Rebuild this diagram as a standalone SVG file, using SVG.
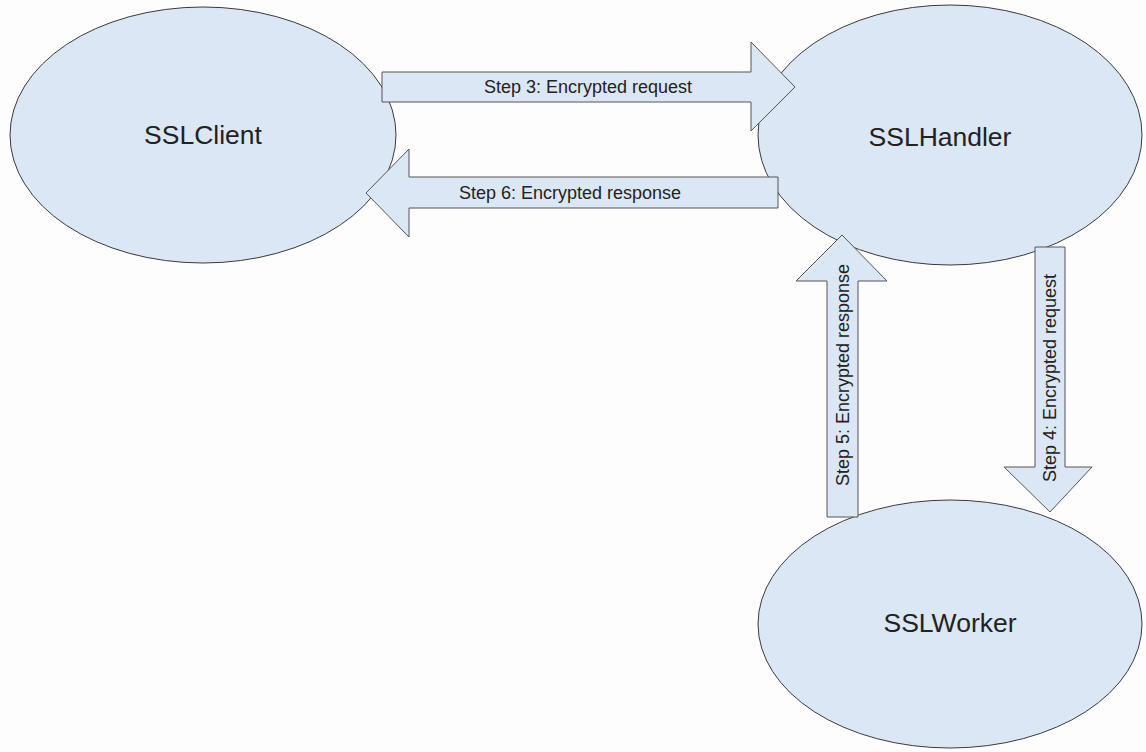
<svg xmlns="http://www.w3.org/2000/svg" width="1146" height="752" viewBox="0 0 1146 752">
<style>
.node{fill:#dce7f5;stroke:#3a3a3a;stroke-width:1}
.arrow{fill:#dce7f5;stroke:#555;stroke-width:1}
.nt{font-family:"Liberation Sans",Arial,sans-serif;font-size:26.5px;fill:#222;text-anchor:middle;dominant-baseline:central}
.lt{font-family:"Liberation Sans",Arial,sans-serif;font-size:18px;fill:#222;text-anchor:middle;dominant-baseline:central}
</style>
<rect width="1146" height="752" fill="#fdfdfd"/>
<g id="SSLClient">
<ellipse class="node" cx="203" cy="135" rx="193" ry="128"/>
<text class="nt" x="203" y="135">SSLClient</text>
</g>
<g id="SSLHandler">
<ellipse class="node" cx="950" cy="135" rx="192" ry="130"/>
<text class="nt" x="940" y="137">SSLHandler</text>
</g>
<g id="SSLWorker">
<ellipse class="node" cx="950" cy="624" rx="192" ry="124"/>
<text class="nt" x="950" y="623">SSLWorker</text>
</g>
<g id="connectors">
<g id="step3">
<polygon class="arrow" points="382,72 751,72 751,42 795,87 751,131 751,102 382,102"/>
<text class="lt" x="588" y="87">Step 3: Encrypted request</text>
</g>
<g id="step6">
<polygon class="arrow" points="778,177 409,177 409,149 366,193 409,237 409,208 778,208"/>
<text class="lt" x="570" y="193">Step 6: Encrypted response</text>
</g>
<g id="step5">
<polygon class="arrow" points="827,517 827,281 796,281 842,235 887,281 858,281 858,517"/>
<text class="lt" transform="translate(843,375) rotate(-90)">Step 5: Encrypted response</text>
</g>
<g id="step4">
<polygon class="arrow" points="1035,247 1065,247 1065,467 1092,467 1050,512 1004,467 1035,467"/>
<text class="lt" transform="translate(1050,378) rotate(-90)">Step 4: Encrypted request</text>
</g>
</g>
</svg>
